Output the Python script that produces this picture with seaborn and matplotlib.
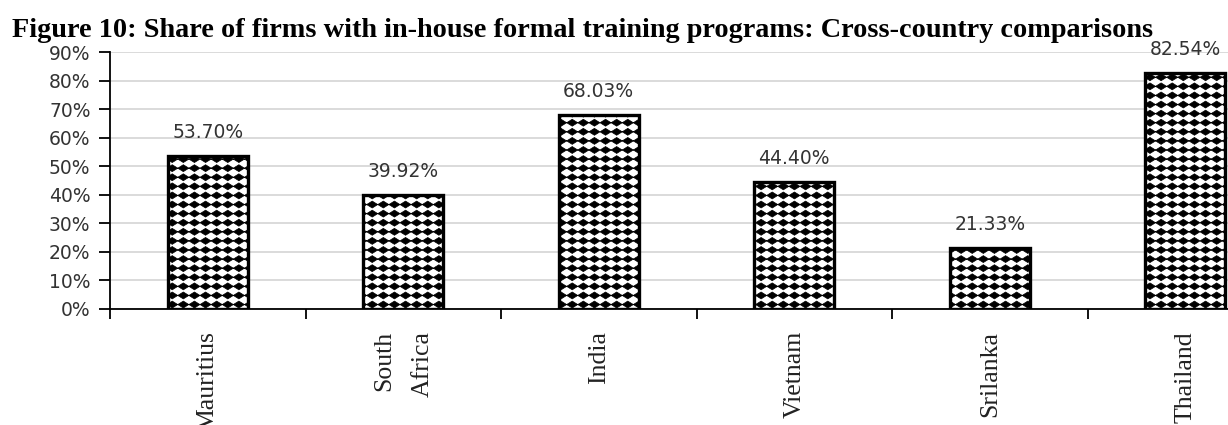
import numpy as np
import matplotlib
matplotlib.use("Agg")
import matplotlib.pyplot as plt
import matplotlib.hatch as mhatch
from matplotlib.path import Path
from matplotlib.ticker import PercentFormatter
import seaborn as sns

# data
countries = ["Mauritius", "South\nAfrica", "India", "Vietnam", "Srilanka", "Thailand"]
share = [53.70, 39.92, 68.03, 44.40, 21.33, 82.54]
y_ticks = [0, 10, 20, 30, 40, 50, 60, 70, 80, 90]


# diamond-grid fill like the Excel pattern; replaces the '*' hatch
class DiamondGrid(mhatch.HatchPatternBase):
    ncols, nrows = 9, 11

    def __init__(self, hatch, density):
        self.on = hatch.count('*') > 0
        self.num_vertices = self.ncols * self.nrows * 5 if self.on else 0

    def set_vertices_and_codes(self, vertices, codes):
        hw = 0.5 / self.ncols
        hh = 0.38 / self.nrows
        k = 0
        for i in range(self.ncols):
            for j in range(self.nrows):
                cx = (i + 0.5) / self.ncols
                cy = (j + 0.5) / self.nrows
                vertices[k:k + 5] = [(cx + hw, cy), (cx, cy + hh), (cx - hw, cy),
                                     (cx, cy - hh), (cx + hw, cy)]
                codes[k:k + 5] = [Path.MOVETO, Path.LINETO, Path.LINETO,
                                  Path.LINETO, Path.CLOSEPOLY]
                k += 5


mhatch._hatch_types = [DiamondGrid if t is mhatch.Stars else t for t in mhatch._hatch_types]

sns.set_style("white")
plt.rcParams['hatch.linewidth'] = 0.5
plt.rcParams['font.family'] = ['DejaVu Sans']

fig = plt.figure(figsize=(12.28, 4.25), dpi=100)
ax = fig.add_axes([110 / 1228, 116 / 425, 1173 / 1228, 257 / 425])

sns.barplot(x=countries, y=share, color='white', edgecolor='black',
            linewidth=2.4, width=0.41, hatch='*', ax=ax, zorder=3)

for p, v in zip(ax.patches, share):
    ax.annotate(f"{v:.2f}%", (p.get_x() + p.get_width() / 2, v),
                xytext=(0, 10), textcoords='offset points', ha='center', va='bottom',
                fontsize=13.5, color='#333333')

ax.set_xlim(-0.5, 5.5)
ax.set_ylim(0, 90)
ax.set_yticks(y_ticks)
ax.yaxis.set_major_formatter(PercentFormatter(decimals=0))
ax.yaxis.grid(True, color='#d4d4d4', linewidth=1.2, zorder=0)
ax.set_axisbelow(True)

for s in ['top', 'right']:
    ax.spines[s].set_visible(False)
for s in ['left', 'bottom']:
    ax.spines[s].set_color('black')
    ax.spines[s].set_linewidth(1.3)

ax.tick_params(axis='y', length=8, width=1.3, color='black', labelsize=13.5,
               labelcolor='#333333', pad=6, left=True)
ax.set_xticks(np.arange(-0.5, 6, 1), minor=True)
ax.tick_params(axis='x', which='minor', length=7, width=1.3, color='black', bottom=True)
ax.tick_params(axis='x', which='major', length=0, pad=16)
for lab in ax.get_xticklabels():
    lab.set_rotation(90)
    lab.set_fontfamily('Liberation Serif')
    lab.set_fontsize(18.5)
    lab.set_color('#222222')
    lab.set_multialignment('right')
    lab.set_linespacing(2.0)
ax.set_xlabel('')
ax.set_ylabel('')

fig.text(12 / 1228, 1 - 37 / 425,
         "Figure 10: Share of firms with in-house formal training programs: Cross-country comparisons",
         fontsize=20.3, fontweight='bold', family='Liberation Serif', color='black',
         ha='left', va='baseline')

fig.savefig("out.png", dpi=100)
